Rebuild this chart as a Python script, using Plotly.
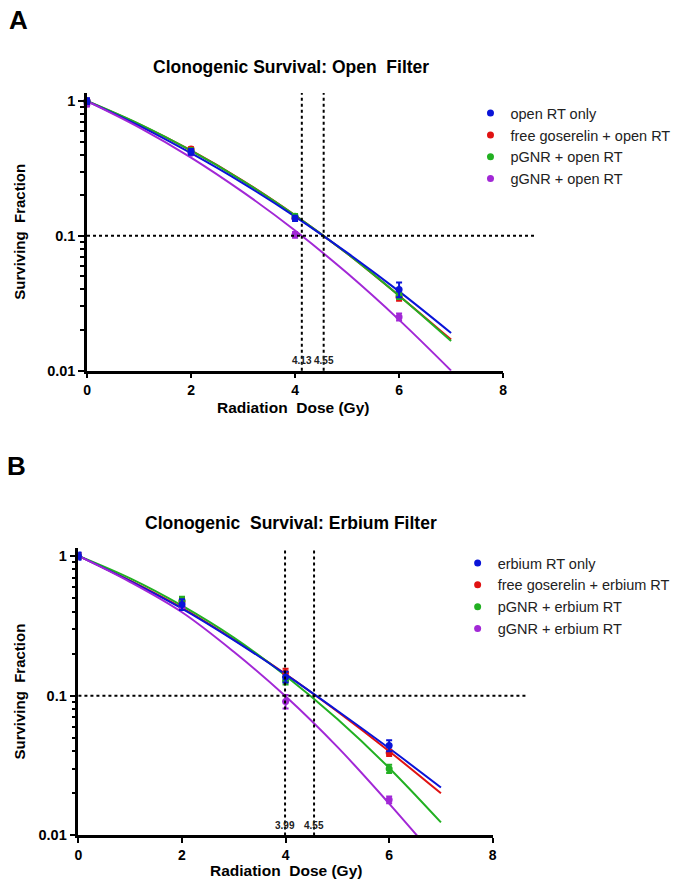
import plotly.graph_objects as go

# ---------------- data ----------------
dose = [0, 2, 4, 6]
fit_dose = [0, 1, 2, 3, 4, 5, 6, 7]

# Panel A (open filter)
names_a = ["open RT only", "free goserelin + open RT", "pGNR + open RT", "gGNR + open RT"]
open_rt_sf = [1.00, 0.42, 0.135, 0.040]
open_rt_err = [0.05, 0.02, 0.006, 0.005]
gos_open_sf = [1.00, 0.44, 0.135, 0.035]
gos_open_err = [0.04, 0.015, 0.005, 0.002]
pgnr_open_sf = [0.99, 0.43, 0.140, 0.036]
pgnr_open_err = [0.03, 0.015, 0.005, 0.002]
ggnr_open_sf = [0.95, 0.41, 0.102, 0.025]
ggnr_open_err = [0.04, 0.01, 0.005, 0.0015]

open_rt_fit = [1.0, 0.657, 0.41, 0.245, 0.139, 0.075, 0.0387, 0.019]
gos_open_fit = [1.0, 0.675, 0.43, 0.256, 0.142, 0.074, 0.036, 0.017]
pgnr_open_fit = [1.0, 0.676, 0.428, 0.255, 0.142, 0.074, 0.036, 0.0166]
ggnr_open_fit = [1.0, 0.639, 0.381, 0.211, 0.1095, 0.0529, 0.0238, 0.0100]
d10_open = [4.13, 4.55]
d10_open_labels = ["4.13", "4.55"]

# Panel B (erbium filter)
names_b = ["erbium RT only", "free goserelin + erbium RT", "pGNR + erbium RT", "gGNR + erbium RT"]
erb_rt_sf = [1.00, 0.45, 0.136, 0.044]
erb_rt_err = [0.06, 0.04, 0.012, 0.004]
gos_erb_sf = [1.00, 0.47, 0.146, 0.039]
gos_erb_err = [0.05, 0.03, 0.010, 0.002]
pgnr_erb_sf = [1.00, 0.48, 0.128, 0.030]
pgnr_erb_err = [0.04, 0.03, 0.008, 0.002]
ggnr_erb_sf = [1.00, 0.43, 0.091, 0.018]
ggnr_erb_err = [0.05, 0.02, 0.010, 0.001]

erb_rt_fit = [1.0, 0.66, 0.42, 0.25, 0.142, 0.078, 0.042, 0.022]
gos_erb_fit = [1.0, 0.665, 0.425, 0.252, 0.143, 0.077, 0.040, 0.020]
pgnr_erb_fit = [1.0, 0.69, 0.44, 0.26, 0.139, 0.068, 0.0304, 0.0124]
ggnr_erb_fit = [1.0, 0.65, 0.395, 0.206, 0.099, 0.043, 0.0169, 0.0063]
d10_erb = [3.99, 4.55]
d10_erb_labels = ["3.99", "4.55"]

sf_ref = 0.1
colors = ["#0a14d8", "#e01212", "#22b022", "#a228d6"]

FONT = "Liberation Sans, Arial, sans-serif"

fig = go.Figure()


def add_panel(xa, ya, legend, names, sfs, errs, fits):
    # fitted curves (draw order: red, green, blue, purple)
    for i in [1, 2, 0, 3]:
        fig.add_trace(go.Scatter(
            x=fit_dose, y=fits[i], mode="lines", line=dict(color=colors[i], width=2, shape="spline"),
            xaxis=xa, yaxis=ya, showlegend=False, hoverinfo="skip"))
    for i in [1, 2, 3, 0]:
        fig.add_trace(go.Scatter(
            x=dose, y=sfs[i], mode="markers", name=names[i],
            marker=dict(color=colors[i], size=7, symbol="circle"),
            error_y=dict(type="data", array=errs[i], color=colors[i], thickness=2, width=3),
            xaxis=xa, yaxis=ya, legend=legend, cliponaxis=False, legendrank=i + 1))


add_panel("x", "y", "legend", names_a,
          [open_rt_sf, gos_open_sf, pgnr_open_sf, ggnr_open_sf],
          [open_rt_err, gos_open_err, pgnr_open_err, ggnr_open_err],
          [open_rt_fit, gos_open_fit, pgnr_open_fit, ggnr_open_fit])
add_panel("x2", "y2", "legend2", names_b,
          [erb_rt_sf, gos_erb_sf, pgnr_erb_sf, ggnr_erb_sf],
          [erb_rt_err, gos_erb_err, pgnr_erb_err, ggnr_erb_err],
          [erb_rt_fit, gos_erb_fit, pgnr_erb_fit, ggnr_erb_fit])

# body margin is removed below; figure pixels == window pixels
W, H = 685, 889


def px(x):
    return x / W


def py(y):
    return 1 - y / H


minor_vals = [m * 10.0 ** e for e in (-2, -1) for m in range(2, 10)]


def xaxis(dom, anchor):
    return dict(domain=dom, anchor=anchor, range=[0, 8], tickmode="linear", tick0=0, dtick=2,
                showline=True, linewidth=2.5, linecolor="black", ticks="outside", ticklen=5,
                tickwidth=2, tickcolor="black", showgrid=False, zeroline=False,
                tickfont=dict(family=FONT, size=14, color="black", weight="bold"))


def yaxis(dom, anchor):
    return dict(domain=dom, anchor=anchor, type="log", range=[-2, 0.06], tickmode="linear",
                tick0=0, dtick=1, showline=True, linewidth=2.5, linecolor="black",
                ticks="outside", ticklen=6, tickwidth=2, tickcolor="black",
                showgrid=False, zeroline=False,
                minor=dict(ticks="outside", ticklen=4, tickwidth=2, tickcolor="black",
                           tickmode="array", tickvals=minor_vals, showgrid=False),
                tickfont=dict(family=FONT, size=14.5, color="black", weight="bold"))


ax_a = [px(84), px(505)]
ay_a = [py(374), py(93.8)]
ax_b = [px(75.3), px(494.5)]
ay_b = [py(843), py(552.5)]

shapes = []
annotations = []


def ref_lines(xr, yr, d10s, labels, ext):
    shapes.append(dict(type="line", xref=f"{xr} domain", yref=yr, x0=0, x1=ext, y0=sf_ref, y1=sf_ref,
                       line=dict(color="black", width=2, dash="dot")))
    for d, lab in zip(d10s, labels):
        shapes.append(dict(type="line", xref=xr, yref=f"{yr} domain", x0=d, x1=d, y0=0, y1=1,
                           line=dict(color="black", width=2, dash="dot")))
        annotations.append(dict(x=d, xref=xr, y=0.036, yref=f"{yr} domain", text=lab, showarrow=False,
                                font=dict(family=FONT, size=10, color="#222", weight="bold"),
                                xanchor="center", yanchor="middle"))


ref_lines("x", "y", d10_open, d10_open_labels, (537 - 84) / (505 - 84))
ref_lines("x2", "y2", d10_erb, d10_erb_labels, (530 - 75.3) / (494.5 - 75.3))


def txt(x, y, s, size, angle=0, weight="bold"):
    annotations.append(dict(x=px(x), y=py(y), xref="paper", yref="paper", text=s, showarrow=False,
                            textangle=angle, xanchor="center", yanchor="middle",
                            font=dict(family=FONT, size=size, color="black", weight=weight)))


txt(15, 20, "A", 26)
txt(13, 470, "B", 26)
txt(290, 68, "Clonogenic Survival: Open  Filter", 17.5)
txt(290, 528, "Clonogenic  Survival: Erbium Filter", 17.5)
txt(292, 411, "Radiation  Dose (Gy)", 15.5)
txt(285, 878, "Radiation  Dose (Gy)", 15.5)
txt(16, 234, "Surviving  Fraction", 15, angle=-90)
txt(16, 698, "Surviving  Fraction", 15, angle=-90)

legend_common = dict(xanchor="left", yanchor="top", bgcolor="rgba(0,0,0,0)",
                     font=dict(family=FONT, size=14.5, color="#222"), traceorder="normal")

fig.update_layout(
    width=W, height=H, margin=dict(l=0, r=0, t=0, b=0),
    paper_bgcolor="white", plot_bgcolor="white",
    xaxis=xaxis(ax_a, "y"), yaxis=yaxis(ay_a, "x"),
    xaxis2=xaxis(ax_b, "y2"), yaxis2=yaxis(ay_b, "x2"),
    legend=dict(x=px(472), y=py(98), **legend_common),
    legend2=dict(x=px(459), y=py(552), **legend_common),
    shapes=shapes, annotations=annotations,
)

fig.write_html("out.html", config={"displayModeBar": False},
               post_script="document.body.style.margin='0';document.body.style.overflow='hidden';")
